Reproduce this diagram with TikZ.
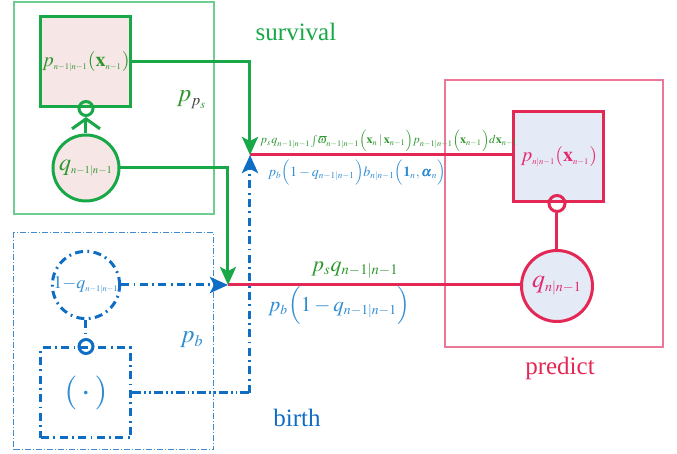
\documentclass[tikz,border=0pt]{standalone}
\usepackage{mathptmx}
\usepackage{amsmath,bm}
\usepackage{fontspec}
\setmainfont{Liberation Serif}
\usetikzlibrary{arrows.meta}
\DeclareMathSizes{6}{6}{4.2}{3.4}
\DeclareMathSizes{7}{7}{4.6}{3.6}
\DeclareMathSizes{9}{9}{4.2}{3.4}
\DeclareMathSizes{10}{10}{4.3}{3.5}
\DeclareMathSizes{10.5}{10.5}{6.8}{5}
\DeclareMathSizes{11}{11}{7.3}{5.5}
\DeclareMathSizes{12}{12}{5.3}{4.2}
\DeclareMathSizes{12.5}{12.5}{8}{6}
\DeclareMathSizes{13}{13}{7}{5}
\definecolor{gline}{RGB}{24,168,72}
\definecolor{gbox}{RGB}{110,205,145}
\definecolor{gtext}{RGB}{45,150,45}
\definecolor{rline}{RGB}{228,40,85}
\definecolor{rbox}{RGB}{235,120,150}
\definecolor{rtext}{RGB}{228,40,110}
\definecolor{btext}{RGB}{45,140,210}
\definecolor{bline}{RGB}{15,110,195}
\definecolor{pinkfill}{RGB}{246,230,230}
\definecolor{bluefill}{RGB}{229,235,246}
\begin{document}
\begin{tikzpicture}[x=0.5pt,y=-0.5pt,
  thickln/.style={line width=1.5pt},
  dashdot/.style={dash pattern=on 4pt off 2.2pt on 0.9pt off 2.2pt},
  dashdotdot/.style={dash pattern=on 4.5pt off 1.5pt on 0.9pt off 1.5pt on 0.9pt off 1.5pt},
  thindashdot/.style={dash pattern=on 3pt off 1pt on 0.5pt off 1pt},
  gsqr/.style={draw=gline, thickln, fill=pinkfill, minimum size=45pt, inner sep=0pt, text=gtext, font=\fontsize{10}{11}\selectfont},
  gcirc/.style={circle, draw=gline, thickln, fill=pinkfill, minimum size=33pt, inner sep=0pt, text=gtext, font=\fontsize{12}{13}\selectfont},
  bcirc/.style={circle, draw=bline, thickln, dashdot, minimum size=33pt, inner sep=0pt, text=btext, font=\fontsize{9}{10}\selectfont},
  bsqr/.style={draw=bline, thickln, dashdot, minimum size=45pt, inner sep=0pt, text=btext, font=\fontsize{17}{19}\selectfont},
  rsqr/.style={draw=rline, thickln, fill=bluefill, minimum size=45pt, inner sep=0pt, text=rtext, font=\fontsize{10}{11}\selectfont},
  rcirc/.style={circle, draw=rline, thickln, fill=bluefill, minimum size=35.5pt, inner sep=0pt, text=rtext, font=\fontsize{13}{14}\selectfont},
  dotc/.style={circle, thickln, minimum size=7pt, inner sep=0pt},
  tip/.style={-{Stealth[length=9pt,width=8pt,inset=2pt]}},
  title/.style={font=\fontsize{12.5}{14}\selectfont}
]
\useasboundingbox (0,0) rectangle (677,454);
% outer boxes
\node[draw=gbox, line width=0.6pt, minimum width=100pt, minimum height=106pt, inner sep=0pt] (gouter) at (114,108) {};
\node[draw=bline!80, line width=0.5pt, thindashdot, minimum width=100pt, minimum height=108.5pt, inner sep=0pt] (bouter) at (114,341.5) {};
\node[draw=rbox, line width=0.6pt, minimum width=109pt, minimum height=133.5pt, inner sep=0pt] (router) at (554,213.5) {};
% nodes
\node[gsqr] (gsq) at (86,62) {$p_{n-1|n-1}(\mathbf{x}_{n-1})$};
\node[gcirc] (gc) at (86,168) {$q_{n-1|n-1}$};
\node[bcirc] (bc) at (86,285) {$1{-}q_{n-1|n-1}$};
\node[bsqr] (bs) at (86,393) {$(\,\cdot\,)$};
\node[rsqr] (rs) at (559,157) {$p_{n|n-1}(\mathbf{x}_{n-1})$};
\node[rcirc] (rc) at (557,286) {$q_{n|n-1}$};
\node[dotc, draw=gline] (gdot) at (gsq.south) {};
\node[dotc, draw=bline] (bdot) at (bs.north) {};
\node[dotc, draw=rline, minimum size=8pt] (rdot) at (rs.south -| rc.north) {};
% junctions
\coordinate (J1) at (250,155);
\coordinate (J2) at (228,285);
% connectors
\draw[rline, thickln] (J1) -- (J1 -| rs.west);
\draw[rline, thickln] (J2) -- (J2 -| rc.west);
\draw[bline, thickln, dashdotdot] (bs.east) -- (bs.east -| J1);
\draw[bline, thickln, dashdot, tip] (bs.east -| J1) -- (J1);
\draw[bline, thickln, dashdot, tip] (bc.east) -- (J2);
\draw[bline, thickln, dashdot] (bc.south) -- (bdot.north);
\draw[gline, thickln, tip] (gsq.east) -| (J1);
\draw[gline, thickln, tip] (gc.east) -| (J2);
\draw[gline, thickln, -{Straight Barb[length=5pt,width=14pt]}] (gc.north) -- (gdot.south);
\draw[rline, thickln] (rdot.south) -- (rc.north);
% labels
\node[text=gtext, font=\fontsize{6}{7}\selectfont] (lab1) at (389,141) {$p_s q_{n-1|n-1}\!\int\!\varpi_{n-1|n-1}\Bigl(\mathbf{x}_n\,|\,\mathbf{x}_{n-1}\Bigr)p_{n-1|n-1}\Bigl(\mathbf{x}_{n-1}\Bigr)d\mathbf{x}_{n-1}$};
\node[text=btext, font=\fontsize{7}{8}\selectfont] (lab2) at (357,173) {$p_b\Bigl(1-q_{n-1|n-1}\Bigr)b_{n|n-1}\Bigl(\mathbf{1}_n,\bm{\alpha}_n\Bigr)$};
\node[text=gtext, font=\fontsize{11}{12}\selectfont] (lab3) at (355,270) {$p_s q_{n-1|n-1}$};
\node[text=btext, font=\fontsize{10.5}{12}\selectfont] (lab4) at (339,306) {$p_b\Bigl(1-q_{n-1|n-1}\Bigr)$};
\node[text=gtext, font=\fontsize{12.5}{14}\selectfont] (pps) at (192,100) {$p_{\color{black!75}p_{\color{gtext}s}}$};
\node[text=btext, font=\fontsize{12.5}{15}\selectfont] (pb) at (192,340) {$p_b$};
\node[title, text=gline] (surv) at (296,32) {survival};
\node[title, text=bline] (birth) at (297,418) {birth};
\node[title, text=rline] (pred) at (560,368) {predict};
\end{tikzpicture}
\end{document}
